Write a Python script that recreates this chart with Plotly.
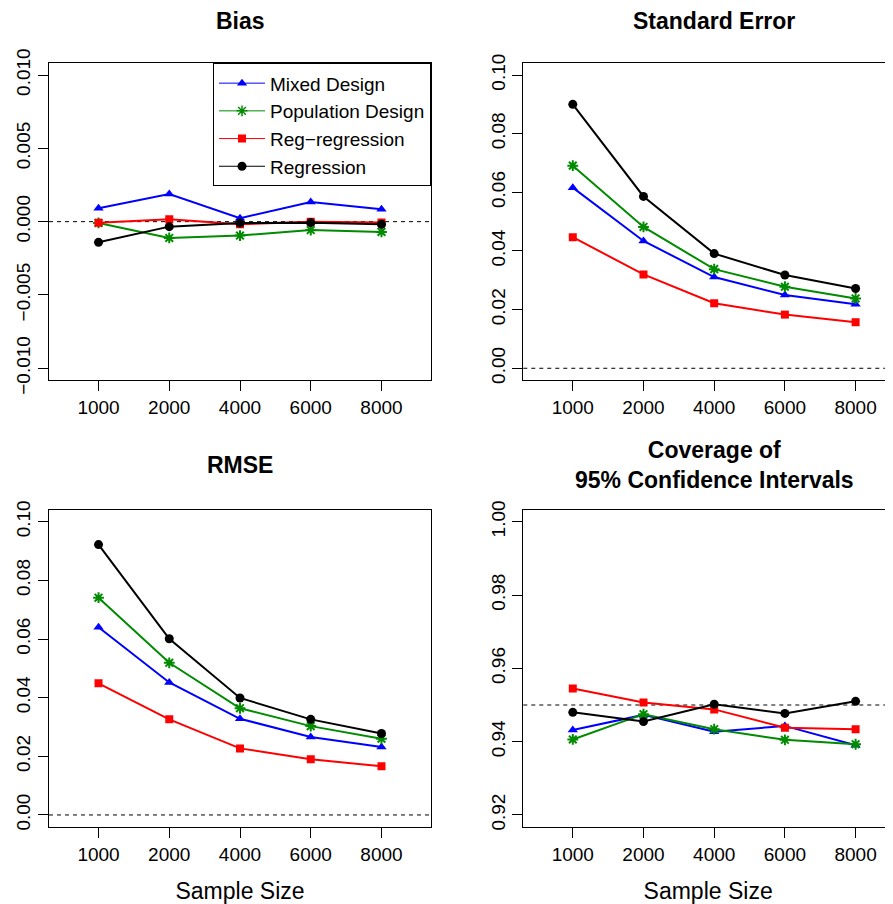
import plotly.graph_objects as go

# ---- data ----
sample_sizes = ["1000", "2000", "4000", "6000", "8000"]
series_names = ["Mixed Design", "Population Design", "Reg\u2212regression", "Regression"]

bias_mixed = [0.00091, 0.00189, 0.00023, 0.00134, 0.00084]
bias_pop = [-0.00009, -0.00111, -0.00095, -0.00057, -0.00070]
bias_regreg = [-0.00007, 0.00016, -0.00018, 0.00000, -0.00005]
bias_reg = [-0.00141, -0.00034, -0.00010, -0.00007, -0.00018]

se_mixed = [0.0616, 0.0434, 0.0311, 0.0250, 0.0218]
se_pop = [0.0691, 0.0482, 0.0338, 0.0278, 0.0238]
se_regreg = [0.0447, 0.0320, 0.0222, 0.0183, 0.0157]
se_reg = [0.0900, 0.0586, 0.0391, 0.0318, 0.0272]

rmse_mixed = [0.0640, 0.0452, 0.0328, 0.0266, 0.0232]
rmse_pop = [0.0741, 0.0519, 0.0364, 0.0303, 0.0260]
rmse_regreg = [0.0449, 0.0326, 0.0227, 0.0190, 0.0166]
rmse_reg = [0.0922, 0.0601, 0.0399, 0.0326, 0.0278]

cov_mixed = [0.9432, 0.9473, 0.9427, 0.9443, 0.9390]
cov_pop = [0.9406, 0.9475, 0.9434, 0.9405, 0.9393]
cov_regreg = [0.9545, 0.9507, 0.9488, 0.9438, 0.9434]
cov_reg = [0.9480, 0.9455, 0.9502, 0.9477, 0.9510]

bias_ticks = [-0.010, -0.005, 0.0, 0.005, 0.010]
bias_ticktext = ["\u22120.010", "\u22120.005", "0.000", "0.005", "0.010"]
se_ticks = [0.00, 0.02, 0.04, 0.06, 0.08, 0.10]
se_ticktext = ["0.00", "0.02", "0.04", "0.06", "0.08", "0.10"]
cov_ticks = [0.92, 0.94, 0.96, 0.98, 1.00]
cov_ticktext = ["0.92", "0.94", "0.96", "0.98", "1.00"]

panel_titles = ["Bias", "Standard Error", "RMSE", "Coverage of<br>95% Confidence Intervals"]
ref_values = [0.0, 0.0, 0.0, 0.95]
xlabel = "Sample Size"

# ---- styles ----
OFF = 8                     # default page body margin
W, H = 893 - OFF, 904 - OFF
colors = ["#0000FF", "#008B00", "#FF0000", "#000000"]
symbols = ["triangle-up", "asterisk-open", "square", "circle"]
msizes = [9, 9, 8, 9]
FONT = "Liberation Sans, Arial, Helvetica, sans-serif"

def px_x(p):
    return (p - OFF) / W

def px_y(p):
    return 1 - (p - OFF) / H

left_dom = [px_x(49), px_x(431)]
right_dom = [px_x(523.3), 1.0]
top_dom = [px_y(380), px_y(63.3)]
bot_dom = [px_y(826.7), px_y(510)]

panels = [
    dict(data=[bias_mixed, bias_pop, bias_regreg, bias_reg], xd=left_dom, yd=top_dom,
         yr=[-0.0108, 0.0108], tv=bias_ticks, tt=bias_ticktext, xr=[-0.7, 4.7], right=False, bottom=False),
    dict(data=[se_mixed, se_pop, se_regreg, se_reg], xd=right_dom, yd=top_dom,
         yr=[-0.004, 0.104], tv=se_ticks, tt=se_ticktext, xr=[-0.7, 4.529], right=True, bottom=False),
    dict(data=[rmse_mixed, rmse_pop, rmse_regreg, rmse_reg], xd=left_dom, yd=bot_dom,
         yr=[-0.004, 0.104], tv=se_ticks, tt=se_ticktext, xr=[-0.7, 4.7], right=False, bottom=True),
    dict(data=[cov_mixed, cov_pop, cov_regreg, cov_reg], xd=right_dom, yd=bot_dom,
         yr=[0.9168, 1.0032], tv=cov_ticks, tt=cov_ticktext, xr=[-0.7, 4.529], right=True, bottom=True),
]

fig = go.Figure()
layout = {}
shapes = []
annotations = []

for i, p in enumerate(panels):
    n = i + 1
    xa = "x" if n == 1 else f"x{n}"
    ya = "y" if n == 1 else f"y{n}"
    for s, vals in enumerate(p["data"]):
        fig.add_trace(go.Scatter(
            x=sample_sizes, y=vals, xaxis=xa, yaxis=ya, mode="lines+markers",
            line=dict(color=colors[s], width=2),
            marker=dict(symbol=symbols[s], size=msizes[s], color=colors[s],
                        line=dict(color=colors[s], width=2 if s == 1 else 0)),
            showlegend=False, hoverinfo="x+y"))
    xkey = "xaxis" if n == 1 else f"xaxis{n}"
    ykey = "yaxis" if n == 1 else f"yaxis{n}"
    xdict = dict(domain=p["xd"], anchor=ya, type="category", range=p["xr"], automargin=False,
                 showline=True, mirror=True, linecolor="black", linewidth=1,
                 ticks="outside", ticklen=10, tickwidth=1, tickcolor="black",
                 showgrid=False, zeroline=False,
                 tickfont=dict(family=FONT, size=19, color="black"))
    if p["bottom"]:
        xdict["title"] = dict(text=xlabel, font=dict(family=FONT, size=23, color="black"), standoff=19)
    layout[xkey] = xdict
    layout[ykey] = dict(domain=p["yd"], anchor=xa, range=p["yr"], automargin=False,
                        tickmode="array", tickvals=p["tv"], ticktext=p["tt"], tickangle=-90,
                        showline=True, mirror=not p["right"], linecolor="black", linewidth=1,
                        ticks="outside", ticklen=10, tickwidth=1, tickcolor="black",
                        showgrid=False, zeroline=False,
                        tickfont=dict(family=FONT, size=19, color="black"))
    shapes.append(dict(type="line", xref=f"{xa} domain", yref=ya, x0=0, x1=1,
                       y0=ref_values[i], y1=ref_values[i],
                       line=dict(color="black", width=1, dash="4px,4px"), layer="below"))
    cx = (p["xd"][0] + (p["xd"][1] if not p["right"] else px_x(905.5))) / 2
    ty = px_y(21) if n <= 2 else px_y(465)
    annotations.append(dict(text=f"<b>{panel_titles[i]}</b>", x=cx, y=ty, xref="paper", yref="paper",
                            xanchor="center", yanchor="middle", showarrow=False,
                            font=dict(family=FONT, size=23, color="black")))

# legend-only traces (thin lines as in the key)
for s in range(4):
    fig.add_trace(go.Scatter(
        x=[None], y=[None], mode="lines+markers", name=series_names[s],
        line=dict(color=colors[s], width=1),
        marker=dict(symbol=symbols[s], size=msizes[s], color=colors[s],
                    line=dict(color=colors[s], width=1.5 if s == 1 else 0)),
        showlegend=True, hoverinfo="skip"))

fig.update_layout(
    width=W, height=H, margin=dict(l=0, r=0, t=0, b=0, autoexpand=False),
    paper_bgcolor="white", plot_bgcolor="white",
    font=dict(family=FONT, size=19, color="black"),
    shapes=shapes, annotations=annotations,
    legend=dict(x=px_x(431), xanchor="right", y=px_y(63.3), yanchor="top",
                bgcolor="white", bordercolor="black", borderwidth=1,
                font=dict(family=FONT, size=19, color="black"),
                tracegroupgap=0, itemwidth=46),
    **layout)

fig.write_html("out.html")
